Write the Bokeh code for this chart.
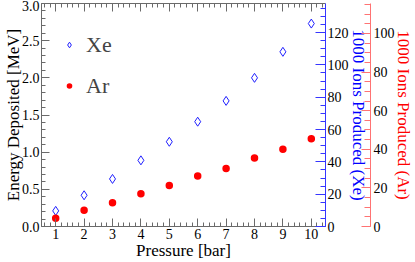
from bokeh.plotting import figure
from bokeh.models import (Range1d, LinearAxis, SingleIntervalTicker, PrintfTickFormatter,
                          Legend, LegendItem)
from bokeh.embed import file_html
from bokeh.resources import INLINE

pressure = [1, 2, 3, 4, 5, 6, 7, 8, 9, 10]
xe_energy = [0.21, 0.42, 0.64, 0.89, 1.14, 1.41, 1.69, 2.00, 2.35, 2.73]
ar_energy = [0.11, 0.22, 0.32, 0.44, 0.55, 0.68, 0.78, 0.92, 1.04, 1.18]

x_title = "Pressure [bar]"
y_title = "Energy Deposited [MeV]"
xe_title = "1000 Ions Produced (Xe)"
ar_title = "1000 Ions Produced (Ar)"

FONT = "Liberation Serif"
GRAY = "#6a6a6a"
BLUE = "#3535ff"
RED = "#ff7373"

p = figure(width=415, height=262, x_range=Range1d(0.5, 10.5), y_range=Range1d(0, 3.0),
           output_backend="svg", toolbar_location=None,
           min_border_left=0, min_border_right=0, min_border_top=3, min_border_bottom=0)
p.extra_y_ranges = {"xe": Range1d(0, 138), "ar": Range1d(0, 115.5)}
p.grid.visible = False
p.outline_line_color = None
p.background_fill_color = "white"


def style(ax, color, title_color="black", major_in=8, minor_in=4):
    ax.axis_line_color = color
    ax.major_tick_line_color = color
    ax.minor_tick_line_color = color
    ax.major_tick_in = major_in
    ax.major_tick_out = 0
    ax.minor_tick_in = minor_in
    ax.minor_tick_out = 0
    ax.major_label_text_font = FONT
    ax.major_label_text_font_size = "14px"
    ax.major_label_text_color = "black"
    ax.major_label_standoff = 2
    ax.axis_label_text_font = FONT
    ax.axis_label_text_font_size = "17px"
    ax.axis_label_text_font_style = "normal"
    ax.axis_label_text_color = title_color
    ax.axis_label_standoff = 0


xax = p.xaxis[0]
xax.ticker = SingleIntervalTicker(interval=1, num_minor_ticks=5)
xax.axis_label = x_title
style(xax, GRAY)
xax.axis_label_standoff = -1
xax.major_label_standoff = 2

yax = p.yaxis[0]
yax.ticker = SingleIntervalTicker(interval=0.5, num_minor_ticks=5)
yax.formatter = PrintfTickFormatter(format="%.1f")
yax.axis_label = y_title
style(yax, GRAY)
yax.axis_label_standoff = -4

top = LinearAxis(ticker=SingleIntervalTicker(interval=1, num_minor_ticks=5))
style(top, GRAY)
top.major_label_text_font_size = "1px"
top.major_label_text_color = None
top.major_label_standoff = 0
p.add_layout(top, "above")

xe_ax = LinearAxis(y_range_name="xe", ticker=SingleIntervalTicker(interval=20, num_minor_ticks=4))
xe_ax.axis_label = xe_title
style(xe_ax, BLUE, "#0000ff", major_in=10, minor_in=5)
xe_ax.axis_label_standoff = -3
p.add_layout(xe_ax, "right")

ar_ax = LinearAxis(y_range_name="ar", ticker=SingleIntervalTicker(interval=20, num_minor_ticks=4))
ar_ax.axis_label = ar_title
style(ar_ax, RED, "#ff0000", major_in=9, minor_in=6)
ar_ax.axis_label_standoff = -4
ar_ax.major_label_standoff = 3
p.add_layout(ar_ax, "right")

xe_r = p.scatter(pressure, xe_energy, marker="diamond", size=9, fill_color=None,
                 line_color="#1f1fff", line_width=1)
ar_r = p.scatter(pressure, ar_energy, marker="circle", size=7.5, fill_color="#ff0000",
                 line_color=None)

legend = Legend(items=[LegendItem(label="Xe", renderers=[xe_r]),
                       LegendItem(label="Ar", renderers=[ar_r])],
                location="top_left")
legend.label_text_font = FONT
legend.label_text_font_size = "22px"
legend.border_line_color = None
legend.background_fill_alpha = 0
legend.margin = 21
legend.padding = 0
legend.spacing = 0
legend.glyph_width = 14
legend.glyph_height = 41
legend.label_height = 41
legend.label_standoff = 10
p.add_layout(legend)

open("out.html", "w").write(file_html(p, INLINE))
